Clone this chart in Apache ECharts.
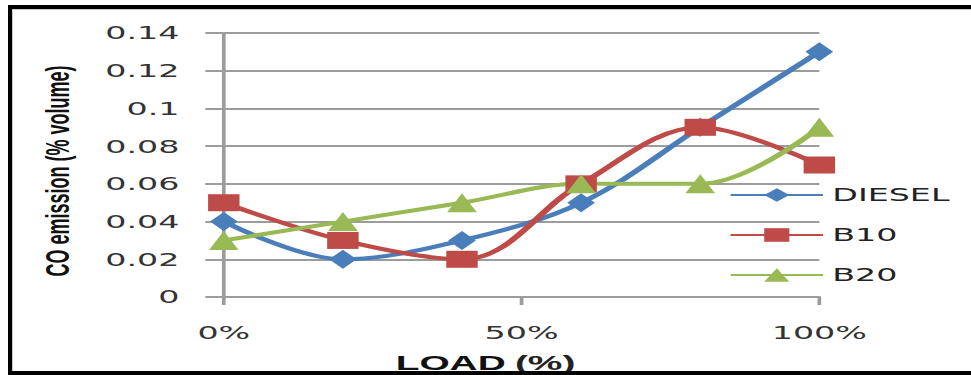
<!DOCTYPE html>
<html>
<head>
<meta charset="utf-8">
<script src="https://cdn.jsdelivr.net/npm/echarts@6/dist/echarts.min.js"></script>
<style>
  html, body { margin: 0; padding: 0; background: #fff; overflow: hidden; }
  #stage { position: relative; width: 971px; height: 375px; overflow: hidden; }
  #chart {
    position: absolute; left: 0; top: 0; width: 525px; height: 375px;
    transform: scaleX(1.8495); transform-origin: 0 0;
  }
  #frame {
    position: absolute; left: 8px; top: 5px; width: 980px; height: 370px;
    box-sizing: border-box; border-left: 4px solid #000; border-top: 4px solid #000;
    border-bottom: 4px solid #000; box-shadow: inset 1px 1px 0 #c8c8c8;
    pointer-events: none;
  }
</style>
</head>
<body>
<div id="stage">
  <div id="chart"></div>
  <div id="frame"></div>
</div>
<script>
// Engine load (%) at each measurement
const loads = [0, 20, 40, 60, 80, 100];
// CO emission (% volume) per fuel
const diesel = [0.04, 0.02, 0.03, 0.05, 0.09, 0.13];
const b10 = [0.05, 0.03, 0.02, 0.06, 0.09, 0.07];
const b20 = [0.03, 0.04, 0.05, 0.06, 0.06, 0.09];
const seriesNames = ['DIESEL', 'B10', 'B20'];

const pairs = vals => loads.map((x, i) => [x, vals[i]]);
const gridGray = '#9c9c9c';

const chart = echarts.init(document.getElementById('chart'), null, { renderer: 'svg' });

function lineSeries(name, vals, color, symbol, size) {
  return {
    name: name,
    type: 'line',
    data: pairs(vals),
    smooth: 0.35,
    symbol: symbol,
    symbolSize: size,
    lineStyle: { color: color, width: 4 },
    itemStyle: { color: color },
    emphasis: { disabled: true }
  };
}

chart.setOption({
  animation: false,
  title: {
    text: '{b|LOAD} {n|(%)}',
    left: 'center',
    top: 347,
    textStyle: {
      rich: {
        b: { fontFamily: 'Liberation Sans', fontWeight: 'bold', fontSize: 21, color: '#111' },
        n: { fontFamily: 'Liberation Sans', fontSize: 21, color: '#222' }
      }
    }
  },
  legend: {
    orient: 'vertical',
    left: 389,
    top: 181,
    itemWidth: 50,
    itemHeight: 17,
    itemGap: 22,
    data: seriesNames,
    textStyle: { fontFamily: 'DejaVu Sans', fontSize: 18, color: '#222' }
  },
  grid: { left: 121, right: 82, top: 33, bottom: 78, containLabel: false },
  xAxis: {
    type: 'value',
    min: 0,
    max: 100,
    interval: 50,
    axisLine: { lineStyle: { color: gridGray, width: 2 } },
    axisTick: { show: true, length: 8, lineStyle: { color: gridGray, width: 2 } },
    splitLine: { show: false },
    axisLabel: {
      formatter: '{value}%',
      margin: 27,
      fontFamily: 'DejaVu Sans',
      fontSize: 18,
      color: '#333'
    }
  },
  yAxis: {
    type: 'value',
    min: 0,
    max: 0.14,
    interval: 0.02,
    name: 'CO emission (% volume)',
    nameLocation: 'middle',
    nameRotate: 90,
    nameGap: 81,
    nameTextStyle: {
      fontFamily: 'Liberation Sans', fontWeight: 'bold', fontSize: 18, color: '#111',
      padding: [0, 12, 0, 0]
    },
    axisLine: { show: true, lineStyle: { color: gridGray, width: 2 } },
    axisTick: { show: true, length: 10, lineStyle: { color: gridGray, width: 2 } },
    splitLine: { show: true, lineStyle: { color: gridGray, width: 2 } },
    axisLabel: {
      margin: 24,
      fontFamily: 'DejaVu Sans',
      fontSize: 18,
      color: '#333'
    }
  },
  series: [
    lineSeries('DIESEL', diesel, '#4A7EBB', 'diamond', [15, 19]),
    lineSeries('B10', b10, '#BE4B48', 'rect', [17, 17]),
    lineSeries('B20', b20, '#98B954', 'triangle', [16, 19])
  ]
});
</script>
</body>
</html>
